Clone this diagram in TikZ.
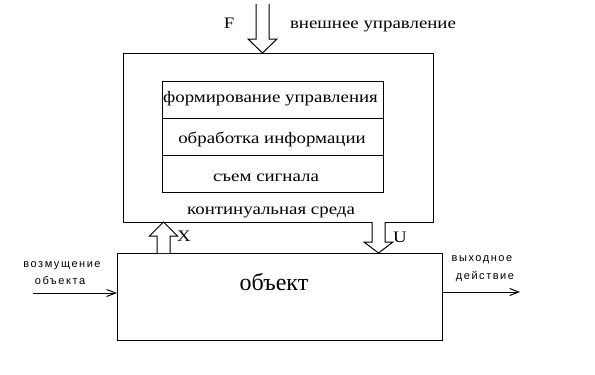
\documentclass[tikz,border=0pt]{standalone}
\usepackage{fontspec}
\setmainfont{Liberation Serif}
\newfontfamily\wideserif[FakeStretch=1.18]{Liberation Serif}
\newfontfamily\smallsans[LetterSpace=14]{Liberation Sans}
\usetikzlibrary{arrows.meta,calc}
\begin{document}
\begin{tikzpicture}[x=1pt,y=-1pt,line width=1pt,
  box/.style={draw,rectangle,inner sep=0pt,outer sep=0pt},
  rowbox/.style={box,minimum width=221pt,minimum height=37pt},
  lbl/.style={inner sep=0pt,anchor=base,font=\wideserif\fontsize{16}{18}\selectfont},
  slbl/.style={inner sep=0pt,anchor=base,font=\smallsans\fontsize{11}{13}\selectfont},
  blockarrow/.style={draw,fill=white,line width=1pt,line join=miter},
  thin arrow/.style={-{Straight Barb[length=9pt,width=7pt]},line width=1pt}]
\useasboundingbox (0,0) rectangle (595,375);
% outer box (continual medium)
\node[box,minimum width=310pt,minimum height=169pt] (outer) at (278,137.5) {};
\node[rowbox] (r1) at (272.5,99.5) {};
\node[rowbox,anchor=north] (r2) at (r1.south) {};
\node[rowbox,anchor=north] (r3) at (r2.south) {};
\node[lbl] (t1) at (270.5,102) {формирование управления};
\node[lbl] (t2) at (272,143) {обработка информации};
\node[lbl] (t3) at (266,181) {съем сигнала};
\node[lbl] (cs) at (271,214) {континуальная среда};
% object
\node[box,minimum width=325pt,minimum height=87pt] (obj) at (279.5,296.5) {};
\node[lbl,font=\fontsize{24}{26}\selectfont] (objt) at (274,290) {объект};
% top F arrow
\coordinate (Ftop) at (262.5,4);
\coordinate (Ftip) at (Ftop |- outer.north);
\draw[blockarrow] ($(Ftop)+(-6.5,0)$) -- ($(Ftip)+(-6.5,-14)$) -- ($(Ftip)+(-14.5,-14)$) -- (Ftip)
  -- ($(Ftip)+(14.5,-14)$) -- ($(Ftip)+(6.5,-14)$) -- ($(Ftop)+(6.5,0)$);
\node[lbl] (F) at (229,28) {F};
\node[lbl] (ext) at (373,28) {внешнее управление};
% X arrow (up, object -> medium)
\coordinate (Xbot) at (163.5,0 |- obj.north);
\coordinate (Xtip) at (Xbot |- outer.south);
\draw[blockarrow] ($(Xbot)+(-6.5,0)$) -- ($(Xtip)+(-6.5,14)$) -- ($(Xtip)+(-14,14)$) -- (Xtip)
  -- ($(Xtip)+(14,14)$) -- ($(Xtip)+(6.5,14)$) -- ($(Xbot)+(6.5,0)$);
\node[lbl] (X) at (184,241) {X};
% U arrow (down, medium -> object)
\coordinate (Utop) at (378.5,0 |- outer.south);
\coordinate (Utip) at (Utop |- obj.north);
\draw[blockarrow] ($(Utop)+(-6.5,0)$) -- ($(Utip)+(-6.5,-11)$) -- ($(Utip)+(-14.5,-11)$) -- (Utip)
  -- ($(Utip)+(14.5,-11)$) -- ($(Utip)+(6.5,-11)$) -- ($(Utop)+(6.5,0)$);
\node[lbl] (U) at (400,242) {U};
% disturbance and output
\coordinate (din) at (33,293);
\draw[thin arrow] (din) -- (din -| obj.west);
\node[slbl] (d1) at (62,267) {возмущение};
\node[slbl] (d2) at (60,284) {объекта};
\coordinate (dout) at (520,292);
\draw[thin arrow] (dout -| obj.east) -- (dout);
\node[slbl] (o1) at (482,261) {выходное};
\node[slbl] (o2) at (485,279) {действие};
\end{tikzpicture}
\end{document}
